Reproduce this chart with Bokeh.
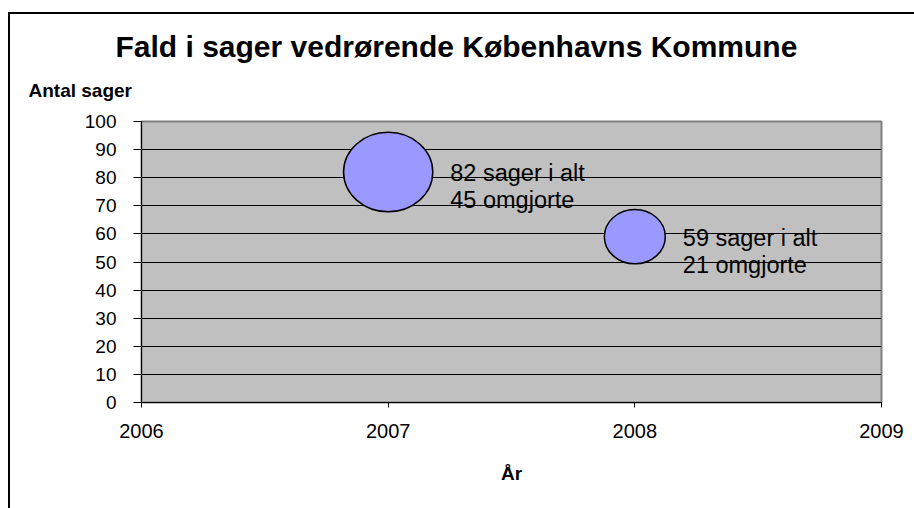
import math
from bokeh.plotting import figure
from bokeh.models import Range1d, FixedTicker, Title, ColumnDataSource
from bokeh.core.properties import value
from bokeh.embed import file_html
from bokeh.resources import INLINE

# ---- data ----
years = [2007, 2008]
total_cases = [82, 59]          # Antal sager i alt
reversed_cases = [45, 21]       # omgjorte (bubble size)
x_ticks = [2006, 2007, 2008, 2009]
y_ticks = [0, 10, 20, 30, 40, 50, 60, 70, 80, 90, 100]
title_text = "Fald i sager vedrørende Københavns Kommune"
y_title = "Antal sager"
x_title = "År"

FONT = "Liberation Sans"
W_SCALE, H_SCALE = 13.3, 11.85   # bubble pixel scale per sqrt(size)

bw = [W_SCALE * math.sqrt(v) for v in reversed_cases]
bh = [H_SCALE * math.sqrt(v) for v in reversed_cases]
src = ColumnDataSource(dict(
    x=years, y=total_cases, w=bw, h=bh,
    line1=[f"{t} sager i alt" for t in total_cases],
    line2=[f"{r} omgjorte" for r in reversed_cases],
    xoff=[w / 2 + 17.5 for w in bw],
))

p = figure(frame_width=740, frame_height=281,
           min_border_left=131, min_border_right=33,
           min_border_top=107, min_border_bottom=106,
           x_range=Range1d(x_ticks[0], x_ticks[-1]),
           y_range=Range1d(y_ticks[0], y_ticks[-1]),
           output_backend="svg", toolbar_location=None, title=None)
p.styles = {"border-left": "2px solid black", "border-top": "2px solid black",
            "margin-top": "12px", "margin-left": "8px"}

p.background_fill_color = "#C0C0C0"
p.border_fill_color = "white"
p.outline_line_color = "#808080"
p.outline_line_width = 2

p.xgrid.visible = False
p.ygrid.ticker = FixedTicker(ticks=y_ticks)
p.ygrid.grid_line_color = "black"
p.ygrid.grid_line_width = 1

for ax in (p.xaxis[0], p.yaxis[0]):
    ax.axis_line_color = "black"
    ax.major_tick_line_color = "black"
    ax.minor_tick_line_color = None
    ax.major_tick_in = 0
    ax.major_label_text_font = FONT
    ax.major_label_text_color = "black"

p.xaxis.ticker = FixedTicker(ticks=x_ticks)
p.xaxis.major_label_overrides = {t: str(t) for t in x_ticks}
p.xaxis.major_tick_out = 5
p.xaxis.major_label_standoff = 16
p.xaxis.major_label_text_font_size = "20px"
p.xaxis.axis_label = x_title
p.xaxis.axis_label_text_font = FONT
p.xaxis.axis_label_text_font_size = "19px"
p.xaxis.axis_label_text_font_style = "bold"
p.xaxis.axis_label_text_color = "black"
p.xaxis.axis_label_standoff = 22

p.yaxis.ticker = FixedTicker(ticks=y_ticks)
p.yaxis.major_tick_out = 8
p.yaxis.major_label_standoff = 17
p.yaxis.major_label_text_font_size = "19px"

p.ellipse(x="x", y="y", width="w", height="h",
          width_units="screen", height_units="screen", source=src,
          fill_color="#9999FF", line_color="black", line_width=1.5)

p.text(x="x", y="y", text="line1", x_offset="xoff", y_offset=1, source=src,
       text_font=value(FONT), text_font_size="23.5px", text_baseline="middle",
       text_align="left", text_color="black")
p.text(x="x", y="y", text="line2", x_offset="xoff", y_offset=28, source=src,
       text_font=value(FONT), text_font_size="23.5px", text_baseline="middle",
       text_align="left", text_color="black")

# closest to the frame first
p.add_layout(Title(text=y_title, align="left", offset=-113, vertical_align="top",
                   standoff=37, text_font=FONT, text_font_size="19px",
                   text_font_style="bold", text_color="black"), "above")
p.add_layout(Title(text=title_text, align="left", offset=-26, vertical_align="top",
                   standoff=-6, text_font=FONT, text_font_size="30px",
                   text_font_style="bold", text_color="black"), "above")

open("out.html", "w").write(file_html(p, INLINE))
